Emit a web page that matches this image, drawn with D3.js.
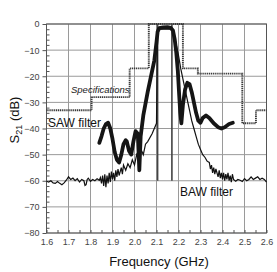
<!DOCTYPE html>
<html>
<head>
<meta charset="utf-8">
<script src="https://cdn.jsdelivr.net/npm/d3@7"></script>
<style>
  body { margin: 0; background: #fff; }
  svg { display: block; font-family: Arial, "Liberation Sans", sans-serif; }
</style>
</head>
<body>
<div id="chart"></div>
<script>

// specification mask (step after each edge)
var specFreq = [1.6, 1.805, 1.978, 2.065, 2.22, 2.288, 2.49, 2.552, 2.6];
var specLoss = [-33, -28, -17, 0, -17, -19, -38, -33, -33];

// SAW filter S21
var sawFreq = [1.84, 1.85, 1.86, 1.87, 1.88, 1.89, 1.90, 1.91, 1.92, 1.93, 1.94, 1.95, 1.96, 1.965, 1.975, 1.985,
  1.995, 2.005, 2.015, 2.022, 2.028, 2.04, 2.06, 2.075, 2.09, 2.1, 2.105, 2.112, 2.13, 2.15, 2.165, 2.175,
  2.183, 2.19, 2.197, 2.203, 2.208, 2.213, 2.22, 2.23, 2.24, 2.25, 2.26, 2.27, 2.28, 2.29, 2.3, 2.31,
  2.325, 2.34, 2.36, 2.38, 2.395, 2.41, 2.43, 2.447];
var sawS21 = [-45.5, -43, -40, -38.3, -37.8, -40, -44, -49, -52, -53, -50, -46, -44.5, -45, -48.5, -50,
  -45, -41, -42, -56, -43, -35, -26, -20, -14, -7, -3, -1.6, -1.3, -1.2, -1.5, -2.5,
  -6, -11, -18, -27, -34, -38, -31, -25, -22.5, -23, -26, -30, -34, -37, -37.8, -36,
  -35, -36, -38, -39.5, -40, -39.5, -38.3, -37.8];

// BAW filter S21
var bawFreq = [1.6, 1.61, 1.62, 1.63, 1.64, 1.65, 1.66, 1.67, 1.68, 1.69, 1.7, 1.71, 1.72, 1.73, 1.74, 1.75,
  1.76, 1.77, 1.775, 1.78, 1.785, 1.79, 1.8, 1.81, 1.82, 1.83, 1.84, 1.845, 1.85, 1.855, 1.86, 1.865,
  1.87, 1.875, 1.88, 1.885, 1.89, 1.895, 1.9, 1.905, 1.91, 1.915, 1.92, 1.925, 1.93, 1.94, 1.945, 1.95,
  1.96, 1.97, 1.98, 1.99, 2.0, 2.01, 2.02, 2.03, 2.04, 2.05, 2.06, 2.08, 2.1, 2.104, 2.11, 2.17,
  2.18, 2.19, 2.2, 2.21, 2.22, 2.23, 2.24, 2.25, 2.26, 2.27, 2.28, 2.29, 2.3, 2.31, 2.32, 2.33,
  2.34, 2.345, 2.35, 2.355, 2.36, 2.365, 2.37, 2.38, 2.385, 2.39, 2.395, 2.4, 2.405, 2.41, 2.415, 2.42,
  2.425, 2.43, 2.435, 2.44, 2.445, 2.45, 2.46, 2.47, 2.48, 2.49, 2.5, 2.51, 2.52, 2.53, 2.54, 2.55,
  2.56, 2.57, 2.58, 2.59, 2.6];
var bawS21 = [-60.2, -60.5, -60, -60.8, -61, -60.3, -61, -61.5, -60.8, -59.8, -58.5, -59.5, -59, -60, -59.2, -60.5,
  -59.5, -60, -61.8, -61.5, -59.5, -59, -60.2, -59.5, -60, -59.2, -59.8, -58.8, -61, -58, -62, -57.5,
  -62.5, -58, -61, -57, -60.5, -56.5, -59.5, -57, -60, -56, -58.5, -55.5, -58, -55, -57.5, -54,
  -56, -53.5, -55, -52, -54, -50, -52, -48, -50, -46, -45, -42, -38, -5, -2, -2,
  -4, -8, -12, -17, -21, -25, -29, -33, -37, -40, -43, -46, -48, -50, -51, -52.5,
  -53, -55.5, -54, -57, -55, -57.5, -55.5, -58.5, -56, -59, -57, -59.5, -57, -60, -57.5, -59.5,
  -57, -60, -58, -60.5, -57.5, -59.5, -60.2, -59.5, -59.8, -60.3, -59.2, -60, -59.5, -58.5, -59.5, -59,
  -58.5, -59.5, -59, -59.5, -60.5];

// BAW passband edge markers
var edgeFreq = [2.105, 2.17];
var edgeRange = [0, -60];

var xTicks = [1.6, 1.7, 1.8, 1.9, 2.0, 2.1, 2.2, 2.3, 2.4, 2.5, 2.6];
var yTicks = [0, -10, -20, -30, -40, -50, -60, -70, -80];

var width = 277,
    height = 272,
    margin = {top: 24, right: 10.5, bottom: 39, left: 46.5};

var svg = d3.select('#chart').append('svg')
  .attr('width', width)
  .attr('height', height);

var x = d3.scaleLinear().domain([1.6, 2.6]).range([margin.left, width - margin.right]);
var y = d3.scaleLinear().domain([-80, 0]).range([height - margin.bottom, margin.top]);

// grid
svg.append('g')
  .selectAll('line.vg')
  .data(xTicks)
  .enter().append('line')
  .attr('x1', d => x(d)).attr('x2', d => x(d))
  .attr('y1', y(0)).attr('y2', y(-80))
  .attr('stroke', '#9a9a9a').attr('stroke-width', 1);

svg.append('g')
  .selectAll('line.hg')
  .data(yTicks)
  .enter().append('line')
  .attr('x1', x(1.6)).attr('x2', x(2.6))
  .attr('y1', d => y(d)).attr('y2', d => y(d))
  .attr('stroke', '#9a9a9a').attr('stroke-width', 1);

// axes
var xAxis = d3.axisBottom(x).tickValues(xTicks).tickFormat(d3.format('.1f')).tickSize(-3).tickPadding(6);
var xMinor = d3.axisBottom(x).tickValues(d3.range(1.65, 2.6, 0.1)).tickFormat('').tickSize(-3);
var yAxis = d3.axisLeft(y).tickValues(yTicks).tickFormat(d3.format('d')).tickSize(4).tickPadding(3);
var yMinor = d3.axisLeft(y).tickValues(d3.range(-78, 0, 2).filter(d => d % 10 !== 0)).tickFormat('').tickSize(-3);

function styleAxis(g) {
  g.select('.domain').remove();
  g.selectAll('line').attr('stroke', '#555');
  g.selectAll('text').attr('fill', '#444').style('font-size', '9px');
}

svg.append('g').attr('transform', 'translate(0,' + y(-80) + ')').call(xAxis).call(styleAxis);
svg.append('g').attr('transform', 'translate(0,' + y(-80) + ')').call(xMinor).call(styleAxis);
svg.append('g').attr('transform', 'translate(' + x(1.6) + ',0)').call(yAxis).call(styleAxis);
svg.append('g').attr('transform', 'translate(' + x(1.6) + ',0)').call(yMinor).call(styleAxis);

// frame
svg.append('rect')
  .attr('x', x(1.6)).attr('y', y(0))
  .attr('width', x(2.6) - x(1.6)).attr('height', y(-80) - y(0))
  .attr('fill', 'none').attr('stroke', '#555').attr('stroke-width', 1);

var line = d3.line().x(d => x(d[0])).y(d => y(d[1]));

// specification mask
svg.append('path')
  .datum(d3.zip(specFreq, specLoss))
  .attr('d', line.curve(d3.curveStepAfter))
  .attr('fill', 'none')
  .attr('stroke', '#3a3a3a')
  .attr('stroke-width', 1.9)
  .attr('stroke-dasharray', '1.2,0.7');
line.curve(d3.curveLinear);

// BAW edge markers
svg.append('g')
  .selectAll('line')
  .data(edgeFreq)
  .enter().append('line')
  .attr('x1', d => x(d)).attr('x2', d => x(d))
  .attr('y1', y(edgeRange[0])).attr('y2', y(edgeRange[1]))
  .attr('stroke', '#444').attr('stroke-width', 1.6);

// BAW filter
svg.append('path')
  .datum(d3.zip(bawFreq, bawS21))
  .attr('d', line)
  .attr('fill', 'none')
  .attr('stroke', '#111')
  .attr('stroke-width', 1.2);

// SAW filter
svg.append('path')
  .datum(d3.zip(sawFreq, sawS21))
  .attr('d', line)
  .attr('fill', 'none')
  .attr('stroke', '#151515')
  .attr('stroke-width', 3.8)
  .attr('stroke-linejoin', 'round')
  .attr('stroke-linecap', 'round');

// labels
svg.append('text')
  .attr('x', 71).attr('y', 92.5)
  .style('font-size', '9.5px').style('font-style', 'italic')
  .attr('fill', '#222')
  .text('Specifications');

svg.append('text')
  .attr('x', 48).attr('y', 127)
  .style('font-size', '12px')
  .attr('fill', '#111')
  .text('SAW filter');

svg.append('text')
  .attr('x', 180).attr('y', 196)
  .style('font-size', '12px')
  .attr('fill', '#111')
  .text('BAW filter');

svg.append('text')
  .attr('x', 159).attr('y', 266)
  .attr('text-anchor', 'middle')
  .style('font-size', '13px')
  .attr('fill', '#111')
  .text('Frequency (GHz)');

var yl = svg.append('text')
  .attr('transform', 'translate(19,120) rotate(-90)')
  .attr('text-anchor', 'middle')
  .style('font-size', '13px')
  .attr('fill', '#111');
yl.append('tspan').text('S');
yl.append('tspan').attr('dy', 3).style('font-size', '9px').text('21');
yl.append('tspan').attr('dy', -3).text(' (dB)');

</script>
</body>
</html>
